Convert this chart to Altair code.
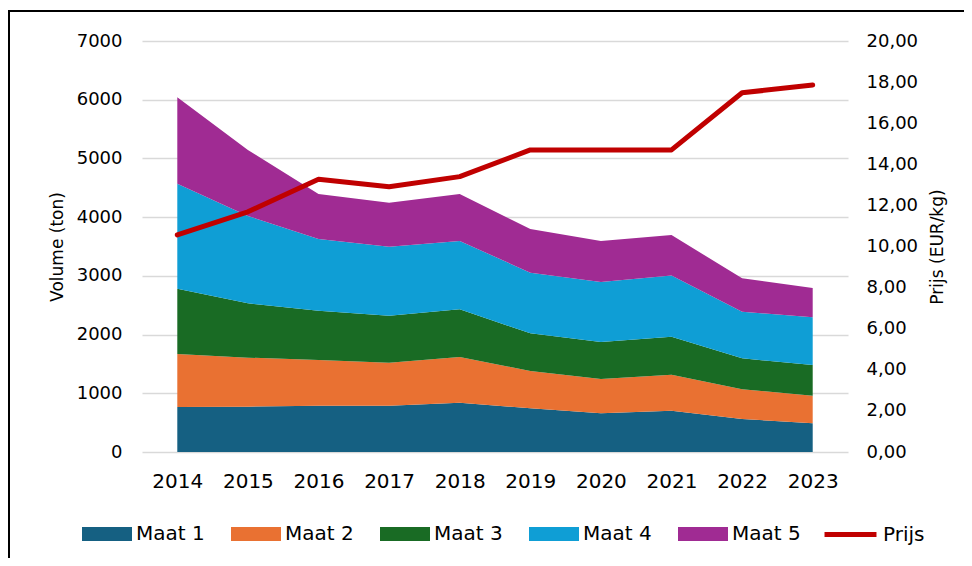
import altair as alt
import pandas as pd

years = ["2014", "2015", "2016", "2017", "2018", "2019", "2020", "2021", "2022", "2023"]
maat1 = [766, 772, 789, 789, 840, 744, 658, 704, 562, 488]
maat2 = [903, 835, 778, 733, 778, 636, 585, 613, 506, 471]
maat3 = [1113, 926, 840, 800, 812, 641, 631, 647, 527, 523]
maat4 = [1788, 1487, 1221, 1175, 1164, 1034, 1022, 1040, 795, 812]
maat5 = [1471, 1124, 766, 750, 800, 743, 698, 692, 568, 499]
prijs = [10.56, 11.69, 13.27, 12.91, 13.40, 14.70, 14.70, 14.70, 17.48, 17.86]

series_names = ["Maat 1", "Maat 2", "Maat 3", "Maat 4", "Maat 5"]
series_colors = ["#156082", "#E97132", "#196B24", "#0F9ED5", "#A02B93"]
line_name = "Prijs"
line_color = "#C00000"

rows = []
for k, (name, vals) in enumerate(zip(series_names, [maat1, maat2, maat3, maat4, maat5])):
    for jaar, v in zip(years, vals):
        rows.append({"jaar": jaar, "maat": name, "volume": v, "volgorde": k})
area_df = pd.DataFrame(rows)
price_df = pd.DataFrame({"jaar": years, "prijs": prijs, "reeks": [line_name] * len(years)})

FONT = "DejaVu Sans"

x_enc = alt.X(
    "jaar:O",
    sort=years,
    scale=alt.Scale(type="point", padding=0.5),
    axis=alt.Axis(title=None, labelAngle=0, labelFontSize=20, ticks=False, domain=False,
                  grid=False, labelPadding=19),
)

areas = alt.Chart(area_df).mark_area(opacity=1, strokeWidth=0).encode(
    x=x_enc,
    y=alt.Y(
        "volume:Q",
        stack="zero",
        scale=alt.Scale(domain=[0, 7000], nice=False),
        axis=alt.Axis(title="Volume (ton)", values=list(range(0, 7001, 1000)), format="d",
                      labelFontSize=18, titleFontSize=17, ticks=False, domain=False,
                      grid=True, gridColor="#D9D9D9", gridWidth=1.5,
                      labelPadding=20, titlePadding=10),
    ),
    color=alt.Color(
        "maat:N",
        scale=alt.Scale(domain=series_names, range=series_colors),
        legend=alt.Legend(
            title=None, orient="none", direction="horizontal", legendX=-60, legendY=468,
            symbolType="M-1,-0.28H1V0.28H-1Z", symbolSize=2500, symbolStrokeWidth=0,
            symbolOpacity=1, labelFontSize=20, labelOffset=4, columnPadding=26, padding=0,
        ),
    ),
    order=alt.Order("volgorde:Q"),
)

line = alt.Chart(price_df).mark_line(strokeWidth=5, strokeCap="round", strokeJoin="round").encode(
    x=x_enc,
    y=alt.Y(
        "prijs:Q",
        scale=alt.Scale(domain=[0, 20], nice=False),
        axis=alt.Axis(orient="right", title="Prijs (EUR/kg)", values=list(range(0, 21, 2)),
                      labelExpr="replace(format(datum.value, '.2f'), '.', ',')",
                      labelFontSize=18, titleFontSize=17, ticks=False, domain=False,
                      grid=False, labelPadding=18, titlePadding=12, titleAngle=270,
                      titleBaseline="top"),
    ),
    stroke=alt.Stroke(
        "reeks:N",
        scale=alt.Scale(domain=[line_name], range=[line_color]),
        legend=alt.Legend(
            title=None, orient="none", legendX=680, legendY=465,
            symbolType="stroke", symbolSize=2700, symbolStrokeWidth=5,
            labelFontSize=20, labelOffset=4, padding=0,
        ),
    ),
)

frame = alt.Chart(alt.Data(values=[{"k": 1}])).mark_rect(
    fillOpacity=0, stroke="black", strokeWidth=2
).encode(
    x=alt.value(-133), x2=alt.value(900), y=alt.value(-30), y2=alt.value(700)
)

chart = (
    alt.layer(areas, line, frame)
    .resolve_scale(y="independent", color="independent")
    .properties(
        width=706, height=411,
        autosize=alt.AutoSizeParams(type="none"),
        padding={"left": 134, "top": 33, "right": 116, "bottom": 106},
    )
    .configure_view(stroke=None)
    .configure_axis(labelFont=FONT, titleFont=FONT, labelColor="black", titleColor="black",
                    titleFontWeight="normal")
    .configure_legend(labelFont=FONT, labelColor="black")
)

chart.save("out.html", embed_options={"renderer": "svg", "actions": False})
